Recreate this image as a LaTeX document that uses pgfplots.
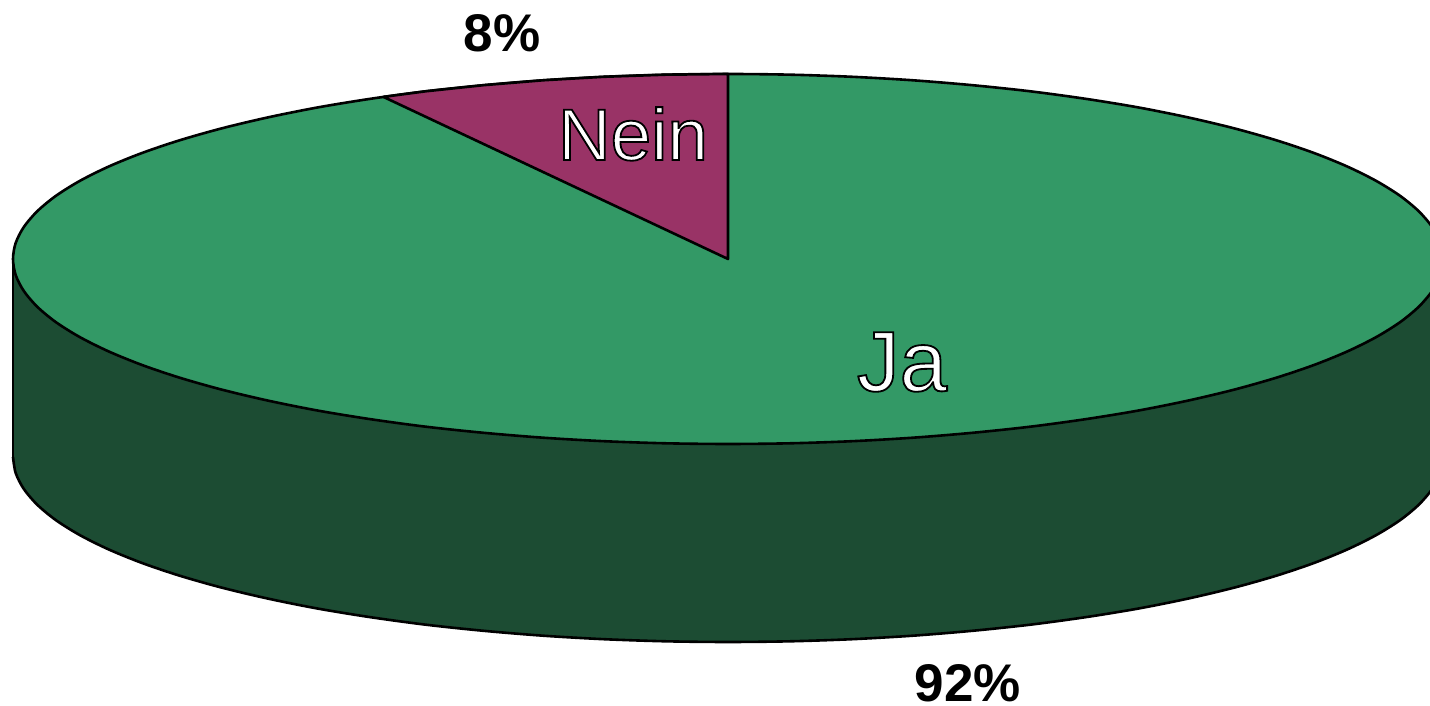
\documentclass[border=0pt]{standalone}
\usepackage{fontspec}
\setmainfont{Liberation Sans}
\usepackage{pgfplots}
\usepackage{pgfplotstable}
\pgfplotsset{compat=1.18}
\definecolor{pieja}{HTML}{339966}
\definecolor{piejaside}{HTML}{1C4C33}
\definecolor{pienein}{HTML}{993366}

% rim of the top face, pixels from the pie centre
\pgfplotstableread{
x y
715 0
712.3 16.1
704.1 32.1
690.6 47.9
671.9 63.3
648.0 78.2
619.2 92.5
585.7 106.1
547.7 118.9
505.6 130.8
459.6 141.7
410.1 151.6
357.5 160.2
302.2 167.7
244.5 173.8
185.0 178.7
124.1 182.2
62.3 184.3
0 185
-62.3 184.3
-124.1 182.2
-185.0 178.7
-244.5 173.8
-302.2 167.7
-357.5 160.2
-410.1 151.6
-459.6 141.7
-505.6 130.8
-547.7 118.9
-585.7 106.1
-619.2 92.5
-648.0 78.2
-671.9 63.3
-690.6 47.9
-704.1 32.1
-712.3 16.1
-715 0
-712.3 -16.1
-704.1 -32.1
-690.6 -47.9
-671.9 -63.3
-648.0 -78.2
-619.2 -92.5
-585.7 -106.1
-547.7 -118.9
-505.6 -130.8
-459.6 -141.7
-410.1 -151.6
-357.5 -160.2
-302.2 -167.7
-244.5 -173.8
-185.0 -178.7
-124.1 -182.2
-62.3 -184.3
0 -185
62.3 -184.3
124.1 -182.2
185.0 -178.7
244.5 -173.8
302.2 -167.7
357.5 -160.2
410.1 -151.6
459.6 -141.7
505.6 -130.8
547.7 -118.9
585.7 -106.1
619.2 -92.5
648.0 -78.2
671.9 -63.3
690.6 -47.9
704.1 -32.1
712.3 -16.1
715 0
}\rimtable

% lower edge of the side wall
\pgfplotstableread{
x y
-715 -198
-712.3 -214.1
-704.1 -230.1
-690.6 -245.9
-671.9 -261.3
-648.0 -276.2
-619.2 -290.5
-585.7 -304.1
-547.7 -316.9
-505.6 -328.8
-459.6 -339.7
-410.1 -349.6
-357.5 -358.2
-302.2 -365.7
-244.5 -371.8
-185.0 -376.7
-124.1 -380.2
-62.3 -382.3
0 -383
62.3 -382.3
124.1 -380.2
185.0 -376.7
244.5 -371.8
302.2 -365.7
357.5 -358.2
410.1 -349.6
459.6 -339.7
505.6 -328.8
547.7 -316.9
585.7 -304.1
619.2 -290.5
648.0 -276.2
671.9 -261.3
690.6 -245.9
704.1 -230.1
712.3 -214.1
715 -198
}\sidetable

% Nein slice, 8%
\pgfplotstableread{
x y
0 0
0 185
-62.3 184.3
-124.1 182.2
-185.0 178.7
-244.5 173.8
-302.2 167.7
-344.6 162.1
}\neintable

% white text with a stroked black edge
\newcommand\edged[1]{\special{pdf:code q 2 Tr 0.9 w 0 0 0 RG 1 1 1 rg}#1\special{pdf:code Q}}

\begin{document}
\begin{tikzpicture}
\begin{axis}[
    name=pie,
    scale only axis,
    width=715pt,
    height=353pt,
    xmin=-728, xmax=702,
    ymin=-447, ymax=259,
    hide axis,
    clip=true,
]
% side wall: fill first, then its visible edges
\addplot[draw=none, fill=piejaside, mark=none] table {\sidetable} -- (axis cs:715,0) -- (axis cs:-715,0) -- cycle;
\addplot[draw=black, line width=1.3pt, mark=none] coordinates {(-715,0) (-715,-198)};
\addplot[draw=black, line width=1.3pt, smooth, tension=0.5, mark=none] table {\sidetable};
% top face
\addplot[draw=black, line width=1.3pt, smooth, tension=0.5, fill=pieja, mark=none] table {\rimtable};
\addplot[draw=black, line width=1.3pt, line join=round, fill=pienein, mark=none] table {\neintable} -- cycle;

\node[anchor=base, inner sep=0pt, font=\fontsize{36.5}{40}\selectfont] at (axis cs:-95,99) {\edged{Nein}};
\node[anchor=base, inner sep=0pt, font=\fontsize{42.7}{46}\selectfont] at (axis cs:174,-132) {\edged{Ja}};
\node[anchor=base, inner sep=0pt, font=\fontsize{26.5}{30}\selectfont\bfseries] at (axis cs:-226,207) {8\%};
\node[anchor=base, inner sep=0pt, font=\fontsize{26.5}{30}\selectfont\bfseries] at (axis cs:240,-443) {92\%};
\end{axis}
\pgfresetboundingbox
\useasboundingbox (pie.south west) rectangle (pie.north east);
\end{tikzpicture}
\end{document}
